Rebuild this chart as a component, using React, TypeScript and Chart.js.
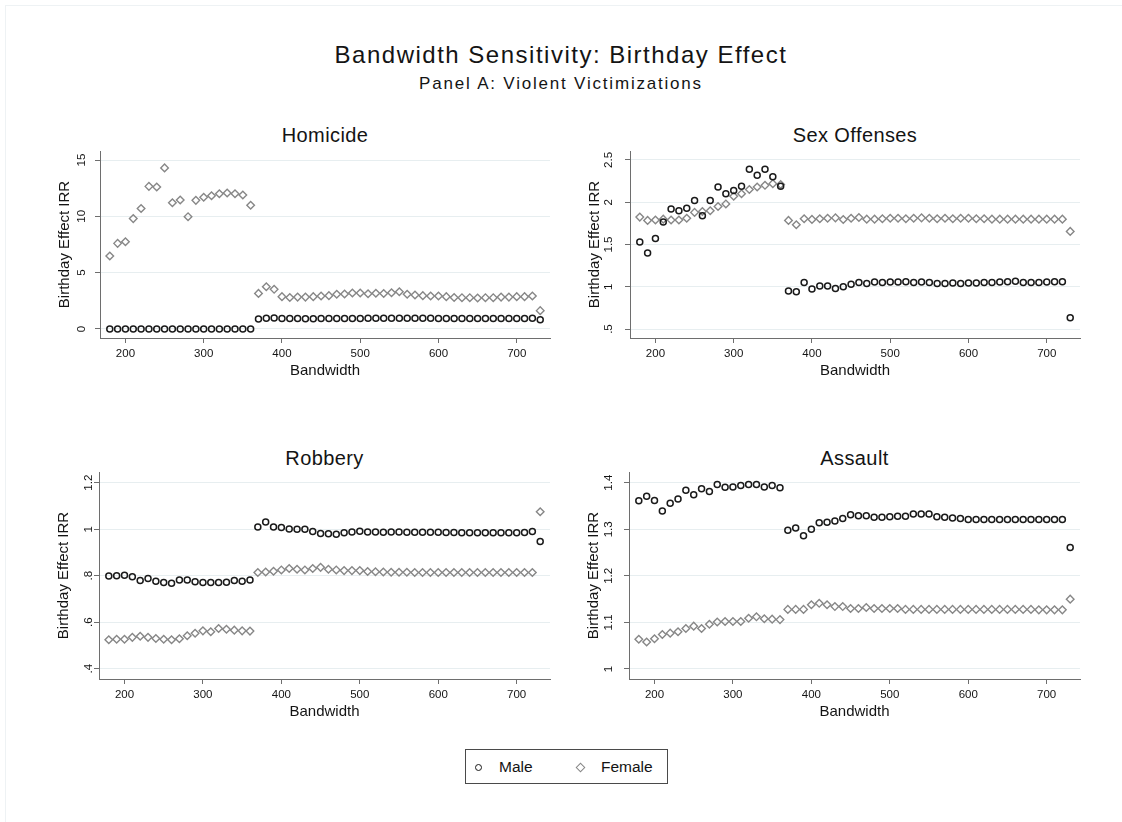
import React, { useEffect, useRef } from 'react';
import { Chart, registerables } from 'chart.js';

Chart.register(...registerables);

const FONT = '"Liberation Sans", Arial, Helvetica, sans-serif';

// Bandwidth values (x)
const BANDWIDTH = [
  180, 190, 200, 210, 220, 230, 240, 250, 260, 270,
  280, 290, 300, 310, 320, 330, 340, 350, 360, 370,
  380, 390, 400, 410, 420, 430, 440, 450, 460, 470,
  480, 490, 500, 510, 520, 530, 540, 550, 560, 570,
  580, 590, 600, 610, 620, 630, 640, 650, 660, 670,
  680, 690, 700, 710, 720, 730,
];
const X_TICKS = [200, 300, 400, 500, 600, 700];

const HOMICIDE_MALE = [
  0.01, 0.01, 0.01, 0.01, 0.01, 0.01, 0.01, 0.01, 0.01, 0.01,
  0.01, 0.01, 0.01, 0.01, 0.01, 0.01, 0.01, 0.01, 0.01, 0.88,
  0.95, 0.97, 0.93, 0.92, 0.92, 0.91, 0.91, 0.92, 0.92, 0.92,
  0.93, 0.93, 0.94, 0.95, 0.95, 0.95, 0.96, 0.96, 0.95, 0.95,
  0.95, 0.95, 0.94, 0.94, 0.94, 0.94, 0.94, 0.94, 0.94, 0.94,
  0.94, 0.94, 0.94, 0.94, 0.95, 0.82,
];
const HOMICIDE_FEMALE = [
  6.48, 7.6, 7.75, 9.8, 10.7, 12.66, 12.6, 14.3, 11.2, 11.45,
  9.97, 11.42, 11.7, 11.83, 12.0, 12.07, 12.0, 11.9, 10.98, 3.16,
  3.75, 3.52, 2.87, 2.8, 2.83, 2.83, 2.87, 2.93, 2.96, 3.08,
  3.1, 3.2, 3.2, 3.13, 3.17, 3.15, 3.22, 3.31, 3.08, 3.02,
  2.96, 2.93, 2.93, 2.87, 2.8, 2.78, 2.78, 2.75, 2.78, 2.78,
  2.83, 2.83, 2.87, 2.87, 2.93, 1.63,
];
const HOMICIDE_TICKS = [0, 5, 10, 15];

const SEX_MALE = [
  1.53, 1.4, 1.57, 1.765, 1.92, 1.9, 1.93, 2.02, 1.84, 2.02,
  2.18, 2.1, 2.14, 2.19, 2.39, 2.32, 2.39, 2.3, 2.19, 0.95,
  0.94, 1.05, 0.975, 1.01, 1.01, 0.98, 1.0, 1.03, 1.05, 1.04,
  1.055, 1.05, 1.055, 1.055, 1.06, 1.05, 1.055, 1.05, 1.04, 1.04,
  1.045, 1.04, 1.045, 1.045, 1.05, 1.05, 1.055, 1.06, 1.065, 1.05,
  1.05, 1.05, 1.055, 1.06, 1.06, 0.633,
];
const SEX_FEMALE = [
  1.824, 1.785, 1.79, 1.8, 1.79, 1.79, 1.81, 1.88, 1.89, 1.9,
  1.95, 1.98, 2.07, 2.1, 2.15, 2.18, 2.2, 2.22, 2.21, 1.785,
  1.734, 1.805, 1.797, 1.805, 1.81, 1.815, 1.795, 1.81, 1.82, 1.8,
  1.8, 1.805, 1.81, 1.81, 1.805, 1.81, 1.815, 1.81, 1.805, 1.81,
  1.805, 1.81, 1.81, 1.805, 1.805, 1.8, 1.8, 1.8, 1.8, 1.8,
  1.8, 1.8, 1.8, 1.8, 1.8, 1.655,
];
const SEX_TICKS = [0.5, 1, 1.5, 2, 2.5];

const ROBBERY_MALE = [
  0.799, 0.8, 0.802, 0.796, 0.779, 0.788, 0.776, 0.771, 0.768, 0.782,
  0.782, 0.774, 0.771, 0.771, 0.771, 0.772, 0.779, 0.776, 0.782, 1.01,
  1.031, 1.01, 1.007, 1.001, 1.0, 1.0, 0.99, 0.982, 0.98, 0.978,
  0.985, 0.988, 0.991, 0.988, 0.988, 0.987, 0.988, 0.988, 0.987, 0.987,
  0.987, 0.987, 0.987, 0.986, 0.986, 0.985, 0.985, 0.985, 0.985, 0.985,
  0.985, 0.985, 0.985, 0.986, 0.99, 0.947,
];
const ROBBERY_FEMALE = [
  0.525, 0.527, 0.527, 0.535, 0.54, 0.535, 0.53, 0.527, 0.525, 0.529,
  0.542, 0.553, 0.563, 0.559, 0.573, 0.57, 0.566, 0.563, 0.562, 0.814,
  0.816, 0.819, 0.825, 0.831, 0.828, 0.825, 0.831, 0.836, 0.828, 0.825,
  0.822, 0.822, 0.822, 0.818, 0.817, 0.816, 0.815, 0.815, 0.815, 0.814,
  0.814, 0.814, 0.814, 0.814, 0.814, 0.814, 0.814, 0.814, 0.814, 0.814,
  0.814, 0.814, 0.814, 0.814, 0.814, 1.075,
];
const ROBBERY_TICKS = [0.4, 0.6, 0.8, 1, 1.2];

const ASSAULT_MALE = [
  1.361, 1.371, 1.362, 1.339, 1.356, 1.365, 1.384, 1.374, 1.387, 1.381,
  1.396, 1.39, 1.391, 1.394, 1.396, 1.396, 1.391, 1.394, 1.389, 1.298,
  1.303, 1.286, 1.3, 1.314, 1.315, 1.318, 1.323, 1.331, 1.329, 1.329,
  1.326, 1.326, 1.327, 1.328, 1.328, 1.333, 1.333, 1.333, 1.327, 1.326,
  1.324, 1.323, 1.321, 1.321, 1.321, 1.321, 1.321, 1.321, 1.321, 1.321,
  1.321, 1.321, 1.321, 1.321, 1.321, 1.261,
];
const ASSAULT_FEMALE = [
  1.064, 1.058, 1.065, 1.074, 1.077, 1.08, 1.087, 1.092, 1.087, 1.096,
  1.101, 1.102, 1.102, 1.102, 1.109, 1.112, 1.108, 1.107, 1.106, 1.128,
  1.128, 1.128, 1.138, 1.141, 1.138, 1.134, 1.134, 1.13, 1.13, 1.132,
  1.13, 1.13, 1.13, 1.13, 1.128, 1.128, 1.128, 1.128, 1.128, 1.128,
  1.128, 1.128, 1.128, 1.128, 1.128, 1.128, 1.128, 1.128, 1.128, 1.128,
  1.128, 1.127, 1.127, 1.127, 1.127, 1.15,
];
const ASSAULT_TICKS = [1, 1.1, 1.2, 1.3, 1.4];

const MALE_COLOR = '#1a1a1a';
const FEMALE_COLOR = '#878787';
const AXIS_COLOR = '#6e6e6e';
const GRID_COLOR = '#e7eef0';
const TEXT_COLOR = '#141414';

const TICK_SIZE = 11.5;
const AXIS_TITLE_SIZE = 15;
const TICK_LEN = 5;

const PAD_L = 10;
const PAD_T = 20;
const PAD_R = 20;
const PAD_B = 6;
const Y_W = 50;
const X_H = 45;

function fmt(v: number): string {
  const s = String(Math.round(v * 100) / 100);
  return s.startsWith('0.') ? s.slice(1) : s;
}

function textWidth(t: string, px: number): number {
  const c = document.createElement('canvas').getContext('2d');
  if (!c) return t.length * px * 0.55;
  c.font = `${px}px ${FONT}`;
  return c.measureText(t).width;
}

type PanelProps = {
  title: string;
  left: number;
  top: number;
  width: number;
  height: number;
  yMin: number;
  yMax: number;
  yTicks: number[];
  labelOffset: number;
  titleY: number;
  male: number[];
  female: number[];
};

function Panel(p: PanelProps) {
  const ref = useRef<HTMLCanvasElement | null>(null);
  const cw = PAD_L + Y_W + p.width + PAD_R;
  const ch = PAD_T + p.height + X_H + PAD_B;

  useEffect(() => {
    if (!ref.current) return;
    const widest = Math.max(...p.yTicks.map((v) => textWidth(fmt(v), TICK_SIZE)));
    const yPad = p.labelOffset - TICK_LEN - widest / 2;
    const chart = new Chart(ref.current, {
      type: 'scatter',
      data: {
        datasets: [
          {
            label: 'Male',
            data: BANDWIDTH.map((x, i) => ({ x, y: p.male[i] })),
            pointStyle: 'circle',
            pointRadius: 3,
            pointBorderWidth: 1.5,
            borderColor: MALE_COLOR,
            backgroundColor: 'rgba(0,0,0,0)',
            showLine: false,
            clip: false,
          },
          {
            label: 'Female',
            data: BANDWIDTH.map((x, i) => ({ x, y: p.female[i] })),
            pointStyle: 'rectRot',
            pointRadius: 3.8,
            pointBorderWidth: 1.4,
            borderColor: FEMALE_COLOR,
            backgroundColor: 'rgba(0,0,0,0)',
            showLine: false,
            clip: false,
          },
        ],
      },
      options: {
        animation: false,
        responsive: false,
        maintainAspectRatio: false,
        devicePixelRatio: 1,
        events: [],
        layout: { padding: { left: PAD_L, top: PAD_T, right: PAD_R, bottom: PAD_B } },
        plugins: {
          legend: { display: false },
          tooltip: { enabled: false },
          title: { display: false },
        },
        scales: {
          x: {
            type: 'linear',
            min: 167.5,
            max: 742.5,
            afterBuildTicks: (s: any) => {
              s.ticks = X_TICKS.map((v) => ({ value: v }));
            },
            afterFit: (s: any) => {
              s.height = X_H;
            },
            grid: {
              drawOnChartArea: false,
              drawTicks: true,
              tickLength: TICK_LEN,
              tickColor: AXIS_COLOR,
              color: AXIS_COLOR,
            },
            border: { display: true, color: AXIS_COLOR, width: 1 },
            ticks: {
              autoSkip: false,
              maxRotation: 0,
              minRotation: 0,
              padding: 4,
              color: TEXT_COLOR,
              font: { family: FONT, size: TICK_SIZE },
              callback: (v: any) => String(v),
            },
            title: {
              display: true,
              text: 'Bandwidth',
              color: TEXT_COLOR,
              font: { family: FONT, size: AXIS_TITLE_SIZE },
              padding: { top: 0, bottom: 3 },
            },
          },
          y: {
            type: 'linear',
            min: p.yMin,
            max: p.yMax,
            afterBuildTicks: (s: any) => {
              s.ticks = p.yTicks.map((v) => ({ value: v }));
            },
            afterFit: (s: any) => {
              s.width = Y_W;
            },
            grid: {
              drawOnChartArea: true,
              drawTicks: true,
              tickLength: TICK_LEN,
              tickColor: AXIS_COLOR,
              color: GRID_COLOR,
              lineWidth: 1,
            },
            border: { display: true, color: AXIS_COLOR, width: 1 },
            ticks: {
              autoSkip: false,
              minRotation: 90,
              maxRotation: 90,
              crossAlign: 'center',
              padding: yPad,
              color: TEXT_COLOR,
              font: { family: FONT, size: TICK_SIZE },
              callback: (v: any) => fmt(Number(v)),
            },
            title: {
              display: true,
              text: 'Birthday Effect IRR',
              color: TEXT_COLOR,
              font: { family: FONT, size: AXIS_TITLE_SIZE },
              padding: { top: 6, bottom: 0 },
            },
          },
        },
      } as any,
    });
    return () => chart.destroy();
  }, []);

  return (
    <>
      <div
        style={{
          position: 'absolute',
          left: p.left,
          top: p.titleY - 10,
          width: p.width,
          textAlign: 'center',
          fontSize: 20,
          lineHeight: '20px',
          letterSpacing: '0.4px',
          color: TEXT_COLOR,
          whiteSpace: 'nowrap',
        }}
      >
        {p.title}
      </div>
      <canvas
        ref={ref}
        width={cw}
        height={ch}
        style={{
          position: 'absolute',
          left: p.left - Y_W - PAD_L,
          top: p.top - PAD_T,
          width: cw,
          height: ch,
        }}
      />
    </>
  );
}

export default function App() {
  return (
    <div
      style={{
        position: 'absolute',
        left: 0,
        top: 0,
        width: 1122,
        height: 822,
        overflow: 'hidden',
        background: '#ffffff',
        fontFamily: FONT,
      }}
    >
      <div
        style={{
          position: 'absolute',
          left: 5,
          top: 5,
          width: 1300,
          height: 1000,
          border: '1px solid #eef2f4',
        }}
      />
      <div
        style={{
          position: 'absolute',
          left: 0,
          width: 1122,
          top: 55 - 12,
          textAlign: 'center',
          fontSize: 24,
          lineHeight: '24px',
          letterSpacing: '1.5px',
          color: TEXT_COLOR,
          whiteSpace: 'nowrap',
        }}
      >
        Bandwidth Sensitivity: Birthday Effect
      </div>
      <div
        style={{
          position: 'absolute',
          left: 0,
          width: 1122,
          top: 83 - 8.5,
          textAlign: 'center',
          fontSize: 17,
          lineHeight: '17px',
          letterSpacing: '1.8px',
          color: TEXT_COLOR,
          whiteSpace: 'nowrap',
        }}
      >
        Panel A: Violent Victimizations
      </div>

      <Panel
        title="Homicide"
        left={100}
        top={151}
        width={450}
        height={187}
        yMin={-0.8}
        yMax={15.8}
        yTicks={HOMICIDE_TICKS}
        labelOffset={18}
        titleY={135}
        male={HOMICIDE_MALE}
        female={HOMICIDE_FEMALE}
      />
      <Panel
        title="Sex Offenses"
        left={630}
        top={151}
        width={450}
        height={187}
        yMin={0.394}
        yMax={2.606}
        yTicks={SEX_TICKS}
        labelOffset={21}
        titleY={135}
        male={SEX_MALE}
        female={SEX_FEMALE}
      />
      <Panel
        title="Robbery"
        left={99}
        top={472}
        width={451}
        height={207}
        yMin={0.356}
        yMax={1.246}
        yTicks={ROBBERY_TICKS}
        labelOffset={10}
        titleY={458}
        male={ROBBERY_MALE}
        female={ROBBERY_FEMALE}
      />
      <Panel
        title="Assault"
        left={629}
        top={472}
        width={451}
        height={207}
        yMin={0.9785}
        yMax={1.423}
        yTicks={ASSAULT_TICKS}
        labelOffset={20}
        titleY={458}
        male={ASSAULT_MALE}
        female={ASSAULT_FEMALE}
      />

      <div
        style={{
          position: 'absolute',
          left: 465,
          top: 749,
          width: 203,
          height: 35,
          boxSizing: 'border-box',
          border: '1px solid #4a4a4a',
          background: '#ffffff',
        }}
      >
        <span
          style={{
            position: 'absolute',
            left: 478 - 465 - 1 - 3.5,
            top: 767 - 749 - 1 - 3.5,
            width: 7,
            height: 7,
            boxSizing: 'border-box',
            border: `1.6px solid ${MALE_COLOR}`,
            borderRadius: '50%',
          }}
        />
        <span
          style={{
            position: 'absolute',
            left: 499 - 465 - 1,
            top: 766.5 - 749 - 1 - 7.5,
            fontSize: 15.5,
            lineHeight: '15.5px',
            color: TEXT_COLOR,
            whiteSpace: 'nowrap',
          }}
        >
          Male
        </span>
        <span
          style={{
            position: 'absolute',
            left: 580 - 465 - 1 - 3.5,
            top: 767 - 749 - 1 - 3.5,
            width: 7,
            height: 7,
            boxSizing: 'border-box',
            border: `1.3px solid ${FEMALE_COLOR}`,
            transform: 'rotate(45deg)',
          }}
        />
        <span
          style={{
            position: 'absolute',
            left: 601 - 465 - 1,
            top: 766.5 - 749 - 1 - 7.5,
            fontSize: 15.5,
            lineHeight: '15.5px',
            color: TEXT_COLOR,
            whiteSpace: 'nowrap',
          }}
        >
          Female
        </span>
      </div>
    </div>
  );
}
